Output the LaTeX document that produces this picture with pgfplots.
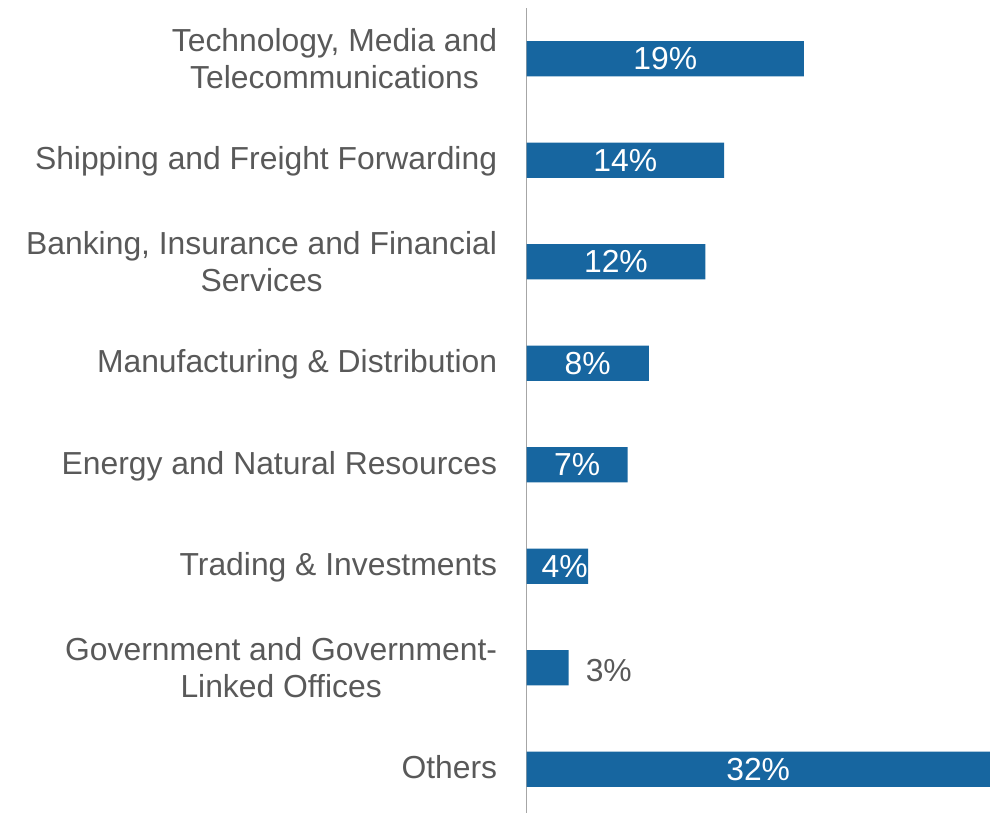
\documentclass[border=0pt]{standalone}
\usepackage{pgfplots}
\pgfplotsset{compat=1.18}
\usepackage{fontspec}
\setmainfont{Liberation Sans}
\definecolor{barblue}{HTML}{1766A0}
\definecolor{txtgray}{HTML}{595959}
\definecolor{axgray}{HTML}{A6A6A6}
\newcommand{\lab}[1]{\raisebox{0pt}[8.6pt][1.4pt]{#1}}
\begin{document}
\begin{tikzpicture}
\begin{axis}[
  name=ax,
  scale only axis,
  width=178.4pt, height=303.3pt,
  xmin=0, xmax=32.7,
  ymin=-0.43, ymax=7.5,
  axis x line=none,
  axis y line*=left,
  y axis line style={draw=axgray, line width=0.7pt},
  xtick=\empty,
  ytick={0,1,2,3,4,5,6,7},
  yticklabels={{\lab{Others}},{Government and Government-\\Linked Offices},{\lab{Trading \& Investments}},{\lab{Energy and Natural Resources}},{\lab{Manufacturing \& Distribution}},{Banking, Insurance and Financial\\Services},{\lab{Shipping and Freight Forwarding}},{Technology, Media and\\Telecommunications}},
  major tick length=0pt,
  tick style={draw=none},
  yticklabel style={align=center, anchor=east, inner sep=0pt, xshift=-10.9pt, text=txtgray, font=\fontsize{12}{13.8}\selectfont},
  clip=false,
]
\addplot[xbar, bar width=13.3pt, bar shift=0pt, fill=barblue, draw=none]
  coordinates {(32.0,0) (2.90,1) (4.26,2) (6.98,3) (8.45,4) (12.35,5) (13.64,6) (19.16,7)};
\addplot[draw=none, mark=none, point meta=explicit symbolic,
  nodes near coords={\pgfplotspointmeta\%},
  every node near coord/.style={anchor=center, inner sep=0pt, text=white, font=\fontsize{12}{13.8}\selectfont}]
  coordinates {(16.0,0) [32] (2.63,2) [4] (3.49,3) [7] (4.225,4) [8] (6.175,5) [12] (6.82,6) [14] (9.58,7) [19]};
\addplot[draw=none, mark=none, point meta=explicit symbolic,
  nodes near coords={\pgfplotspointmeta\%},
  every node near coord/.style={anchor=west, inner sep=0pt, xshift=6.3pt, yshift=-1.1pt, text=txtgray, font=\fontsize{12}{13.8}\selectfont}]
  coordinates {(2.90,1) [3]};
\end{axis}
\pgfresetboundingbox
\path (ax.south west) ++(-198.4pt,0) rectangle ++(376.8pt,306.3pt);
\end{tikzpicture}
\end{document}
